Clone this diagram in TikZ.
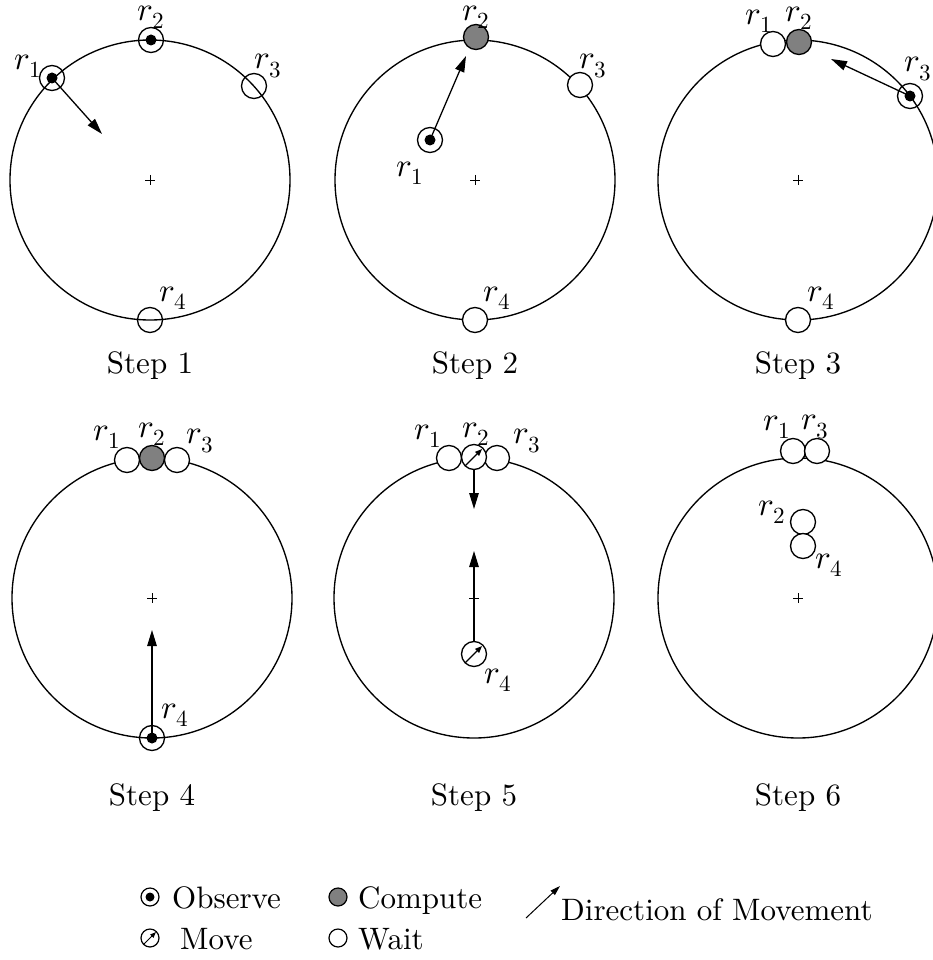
\documentclass[tikz,border=0pt]{standalone}
\usepackage{unicode-math}
\setmainfont{lmroman10-regular.otf}
\setmathfont{latinmodern-math.otf}
\usetikzlibrary{arrows.meta}
\begin{document}
\begin{tikzpicture}[x=1pt,y=-1pt,
  big/.style={circle,draw,line width=1.35pt,minimum size=280pt,inner sep=0pt},
  rob/.style={circle,draw,line width=1.35pt,minimum size=25pt,inner sep=0pt},
  wait/.style={rob,fill=white},
  hollow/.style={rob},
  compute/.style={rob,fill=gray},
  observe/.style={rob,path picture={\fill (path picture bounding box.center) circle (5.5pt);}},
  move/.style={rob,fill=white,path picture={\draw[line width=1.1pt,-{Triangle[length=7pt,width=5.5pt]}] ([shift={(-9,9)}]path picture bounding box.center) -- ([shift={(8,-8)}]path picture bounding box.center);}},
  lrob/.style={circle,draw,line width=1.2pt,minimum size=18pt,inner sep=0pt},
  lobserve/.style={lrob,path picture={\fill (path picture bounding box.center) circle (4.5pt);}},
  lmove/.style={lrob,path picture={\draw[line width=1pt,-{Triangle[length=6pt,width=4.5pt]}] ([shift={(-7,7)}]path picture bounding box.center) -- ([shift={(6,-6)}]path picture bounding box.center);}},
  lcompute/.style={lrob,fill=gray},
  lwait/.style={lrob},
  mv/.style={line width=1.3pt,-{Triangle[length=16pt,width=9.5pt]}},
  plus/.style={line width=0.7pt},
  txt/.style={font=\fontsize{31}{37}\selectfont,inner sep=0pt},
  lab/.style={font=\fontsize{33}{39}\selectfont,inner sep=0pt},
]
\useasboundingbox (0,0) rectangle (933,960);

% ---------- Step 1 ----------
\node[big] (C1) at (150,180) {};
\draw[plus] (C1.center) +(-5,0) -- +(5,0) (C1.center) +(0,-5) -- +(0,5);
\node[observe] (s1r1) at (52,78) {};
\node[observe] (s1r2) at (151,40) {};
\node[hollow] (s1r3) at (254,86) {};
\node[hollow] (s1r4) at (150,320) {};
\node[lab] (s1l1) at (28,66) {$r_1$};
\node[lab] (s1l2) at (151,17) {$r_2$};
\node[lab] (s1l3) at (268,66) {$r_3$};
\node[lab] (s1l4) at (173,298) {$r_4$};
\coordinate (s1t) at (102,134);
\draw[mv] (s1r1.center) -- (s1t);
\node[txt,anchor=base] (S1) at (150,373) {Step 1};

% ---------- Step 2 ----------
\node[big] (C2) at (475,180) {};
\draw[plus] (C2.center) +(-5,0) -- +(5,0) (C2.center) +(0,-5) -- +(0,5);
\node[compute] (s2r2) at (476,37) {};
\node[wait] (s2r3) at (580,85) {};
\node[observe] (s2r1) at (430,140) {};
\node[wait] (s2r4) at (475,320) {};
\node[lab] (s2l2) at (476,17) {$r_2$};
\node[lab] (s2l3) at (593,66) {$r_3$};
\node[lab] (s2l1) at (410,173) {$r_1$};
\node[lab] (s2l4) at (497,298) {$r_4$};
\coordinate (s2t) at (466,56);
\draw[mv] (s2r1.center) -- (s2t);
\node[txt,anchor=base] (S2) at (475,373) {Step 2};

% ---------- Step 3 ----------
\node[big] (C3) at (798,180) {};
\draw[plus] (C3.center) +(-5,0) -- +(5,0) (C3.center) +(0,-5) -- +(0,5);
\node[wait] (s3r1) at (773,44) {};
\node[compute] (s3r2) at (799,42) {};
\node[observe] (s3r3) at (910,96) {};
\node[wait] (s3r4) at (798,320) {};
\node[lab] (s3l1) at (759,21) {$r_1$};
\node[lab] (s3l2) at (799,18) {$r_2$};
\node[lab] (s3l3) at (918,69) {$r_3$};
\node[lab] (s3l4) at (821,298) {$r_4$};
\coordinate (s3t) at (831,59);
\draw[mv] (s3r3.center) -- (s3t);
\node[txt,anchor=base] (S3) at (798,373) {Step 3};

% ---------- Step 4 ----------
\node[big] (C4) at (152,598) {};
\draw[plus] (C4.center) +(-5,0) -- +(5,0) (C4.center) +(0,-5) -- +(0,5);
\node[wait] (s4r1) at (127,460) {};
\node[compute] (s4r2) at (152,458) {};
\node[wait] (s4r3) at (177,460) {};
\node[observe] (s4r4) at (152,738) {};
\node[lab] (s4l1) at (107,437) {$r_1$};
\node[lab] (s4l2) at (152,434) {$r_2$};
\node[lab] (s4l3) at (200,441) {$r_3$};
\node[lab] (s4l4) at (175,715) {$r_4$};
\coordinate (s4t) at (152,630);
\draw[mv] (s4r4.center) -- (s4t);
\node[txt,anchor=base] (S4) at (152,805) {Step 4};

% ---------- Step 5 ----------
\node[big] (C5) at (474,598) {};
\draw[plus] (C5.center) +(-5,0) -- +(5,0) (C5.center) +(0,-5) -- +(0,5);
\node[wait] (s5r1) at (449,458) {};
\node[wait] (s5r3) at (497,458) {};
\node[move] (s5r2) at (474,457) {};
\node[move] (s5r4) at (474,654) {};
\node[lab] (s5l1) at (428,436) {$r_1$};
\node[lab] (s5l2) at (476,434) {$r_2$};
\node[lab] (s5l3) at (527,441) {$r_3$};
\node[lab] (s5l4) at (498,680) {$r_4$};
\coordinate (s5t2) at (474,509);
\coordinate (s5t4) at (474,551);
\draw[mv] (s5r2.south) -- (s5t2);
\draw[mv] (s5r4.north) -- (s5t4);
\node[txt,anchor=base] (S5) at (474,805) {Step 5};

% ---------- Step 6 ----------
\node[big] (C6) at (798,598) {};
\draw[plus] (C6.center) +(-5,0) -- +(5,0) (C6.center) +(0,-5) -- +(0,5);
\node[wait] (s6r1) at (793,451) {};
\node[wait] (s6r3) at (817,451) {};
\node[wait] (s6r2) at (803,522) {};
\node[wait] (s6r4) at (803,546) {};
\node[lab] (s6l1) at (777,427) {$r_1$};
\node[lab] (s6l3) at (815,427) {$r_3$};
\node[lab] (s6l2) at (772,512) {$r_2$};
\node[lab] (s6l4) at (829,565) {$r_4$};
\node[txt,anchor=base] (S6) at (798,805) {Step 6};

% ---------- Legend ----------
\node[lobserve] (Lo) at (150,897) {};
\node[txt,anchor=base west] (Lot) at (172,908) {Observe};
\node[lcompute] (Lc) at (338,897) {};
\node[txt,anchor=base west] (Lct) at (358,908) {Compute};
\node[lmove] (Lm) at (150,938) {};
\node[txt,anchor=base west] (Lmt) at (180,949) {Move};
\node[lwait] (Lw) at (338,938) {};
\node[txt,anchor=base west] (Lwt) at (358,949) {Wait};
\coordinate (La) at (526,918);
\coordinate (Lb) at (560,886);
\draw[line width=1pt,-{Triangle[length=10pt,width=6pt]}] (La) -- (Lb);
\node[txt,anchor=base west] (Ldt) at (561,920) {Direction of Movement};
\end{tikzpicture}
\end{document}
